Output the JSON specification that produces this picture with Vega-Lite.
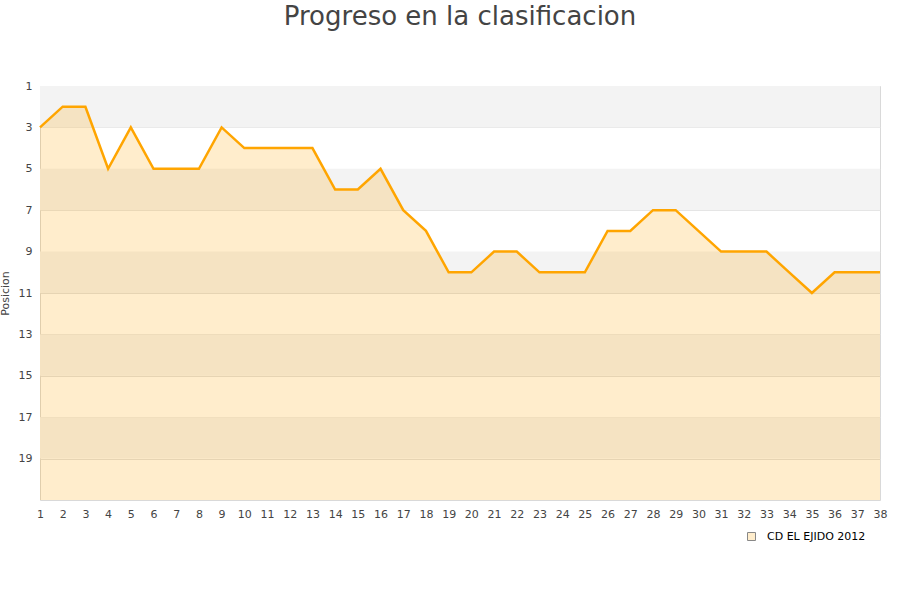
{
  "$schema": "https://vega.github.io/schema/vega-lite/v6.json",
  "width": 840,
  "height": 414,
  "autosize": {"type": "none"},
  "padding": {"left": 40, "top": 86, "right": 20, "bottom": 100},
  "background": "white",
  "title": {
    "text": "Progreso en la clasificacion",
    "fontSize": 26,
    "font": "DejaVu Sans",
    "fontWeight": "normal",
    "color": "#444444",
    "offset": 50
  },
  "config": {
    "view": {"stroke": "#d9d9d9", "strokeWidth": 1},
    "font": "DejaVu Sans",
    "axisX": {
      "title": null,
      "grid": false,
      "domain": false,
      "ticks": false,
      "labelPadding": 8,
      "labelFontSize": 11,
      "labelColor": "#444444",
      "labelFlush": false,
      "labelOverlap": false,
      "labelSeparation": 0
    },
    "axisY": {
      "titleFontSize": 11,
      "titleFontWeight": "normal",
      "titleColor": "#444444",
      "titlePadding": 8,
      "grid": true,
      "gridColor": "#e0e0e0",
      "domain": false,
      "ticks": false,
      "labelPadding": 8,
      "labelFontSize": 11,
      "labelColor": "#444444",
      "labelFlush": false
    }
  },
  "datasets": {
    "posiciones": [
      {"jornada": 1, "posicion": 3, "equipo": "CD EL EJIDO 2012"},
      {"jornada": 2, "posicion": 2, "equipo": "CD EL EJIDO 2012"},
      {"jornada": 3, "posicion": 2, "equipo": "CD EL EJIDO 2012"},
      {"jornada": 4, "posicion": 5, "equipo": "CD EL EJIDO 2012"},
      {"jornada": 5, "posicion": 3, "equipo": "CD EL EJIDO 2012"},
      {"jornada": 6, "posicion": 5, "equipo": "CD EL EJIDO 2012"},
      {"jornada": 7, "posicion": 5, "equipo": "CD EL EJIDO 2012"},
      {"jornada": 8, "posicion": 5, "equipo": "CD EL EJIDO 2012"},
      {"jornada": 9, "posicion": 3, "equipo": "CD EL EJIDO 2012"},
      {"jornada": 10, "posicion": 4, "equipo": "CD EL EJIDO 2012"},
      {"jornada": 11, "posicion": 4, "equipo": "CD EL EJIDO 2012"},
      {"jornada": 12, "posicion": 4, "equipo": "CD EL EJIDO 2012"},
      {"jornada": 13, "posicion": 4, "equipo": "CD EL EJIDO 2012"},
      {"jornada": 14, "posicion": 6, "equipo": "CD EL EJIDO 2012"},
      {"jornada": 15, "posicion": 6, "equipo": "CD EL EJIDO 2012"},
      {"jornada": 16, "posicion": 5, "equipo": "CD EL EJIDO 2012"},
      {"jornada": 17, "posicion": 7, "equipo": "CD EL EJIDO 2012"},
      {"jornada": 18, "posicion": 8, "equipo": "CD EL EJIDO 2012"},
      {"jornada": 19, "posicion": 10, "equipo": "CD EL EJIDO 2012"},
      {"jornada": 20, "posicion": 10, "equipo": "CD EL EJIDO 2012"},
      {"jornada": 21, "posicion": 9, "equipo": "CD EL EJIDO 2012"},
      {"jornada": 22, "posicion": 9, "equipo": "CD EL EJIDO 2012"},
      {"jornada": 23, "posicion": 10, "equipo": "CD EL EJIDO 2012"},
      {"jornada": 24, "posicion": 10, "equipo": "CD EL EJIDO 2012"},
      {"jornada": 25, "posicion": 10, "equipo": "CD EL EJIDO 2012"},
      {"jornada": 26, "posicion": 8, "equipo": "CD EL EJIDO 2012"},
      {"jornada": 27, "posicion": 8, "equipo": "CD EL EJIDO 2012"},
      {"jornada": 28, "posicion": 7, "equipo": "CD EL EJIDO 2012"},
      {"jornada": 29, "posicion": 7, "equipo": "CD EL EJIDO 2012"},
      {"jornada": 30, "posicion": 8, "equipo": "CD EL EJIDO 2012"},
      {"jornada": 31, "posicion": 9, "equipo": "CD EL EJIDO 2012"},
      {"jornada": 32, "posicion": 9, "equipo": "CD EL EJIDO 2012"},
      {"jornada": 33, "posicion": 9, "equipo": "CD EL EJIDO 2012"},
      {"jornada": 34, "posicion": 10, "equipo": "CD EL EJIDO 2012"},
      {"jornada": 35, "posicion": 11, "equipo": "CD EL EJIDO 2012"},
      {"jornada": 36, "posicion": 10, "equipo": "CD EL EJIDO 2012"},
      {"jornada": 37, "posicion": 10, "equipo": "CD EL EJIDO 2012"},
      {"jornada": 38, "posicion": 10, "equipo": "CD EL EJIDO 2012"}
    ],
    "bandas": [
      {"desde": 1, "hasta": 3},
      {"desde": 5, "hasta": 7},
      {"desde": 9, "hasta": 11},
      {"desde": 13, "hasta": 15},
      {"desde": 17, "hasta": 19}
    ]
  },
  "layer": [
    {
      "data": {"name": "bandas"},
      "mark": {"type": "rect", "color": "#f3f3f3"},
      "encoding": {
        "x": {
          "datum": 1,
          "type": "quantitative",
          "scale": {"domain": [1, 38], "nice": false, "zero": false},
          "axis": {
            "values": [1,2,3,4,5,6,7,8,9,10,11,12,13,14,15,16,17,18,19,20,21,22,23,24,25,26,27,28,29,30,31,32,33,34,35,36,37,38],
            "labelOverlap": false
          }
        },
        "x2": {"datum": 38},
        "y": {
          "field": "desde",
          "type": "quantitative",
          "scale": {"domain": [1, 21], "nice": false, "zero": false, "reverse": true},
          "axis": {"title": "Posicion", "values": [1,3,5,7,9,11,13,15,17,19]}
        },
        "y2": {"field": "hasta"}
      }
    },
    {
      "data": {"name": "posiciones"},
      "mark": {"type": "area", "opacity": 1},
      "encoding": {
        "x": {
          "field": "jornada",
          "type": "quantitative",
          "axis": {
            "values": [1,2,3,4,5,6,7,8,9,10,11,12,13,14,15,16,17,18,19,20,21,22,23,24,25,26,27,28,29,30,31,32,33,34,35,36,37,38],
            "labelOverlap": false
          }
        },
        "y": {
          "field": "posicion",
          "type": "quantitative",
          "axis": {"title": "Posicion", "values": [1,3,5,7,9,11,13,15,17,19]}
        },
        "y2": {"datum": 21},
        "color": {
          "field": "equipo",
          "type": "nominal",
          "scale": {"range": ["rgba(255,165,0,0.2)"]},
          "legend": {
            "title": null,
            "orient": "none",
            "legendX": 706,
            "legendY": 445,
            "symbolType": "square",
            "symbolSize": 64,
            "symbolOpacity": 1,
            "symbolStrokeColor": "#888888",
            "symbolStrokeWidth": 1,
            "labelOffset": 10,
            "labelFontSize": 11,
            "labelColor": "#000000",
            "labelFont": "DejaVu Sans"
          }
        }
      }
    },
    {
      "data": {"name": "posiciones"},
      "mark": {"type": "line", "color": "#ffa500", "strokeWidth": 2.5},
      "encoding": {
        "x": {
          "field": "jornada",
          "type": "quantitative",
          "axis": {
            "values": [1,2,3,4,5,6,7,8,9,10,11,12,13,14,15,16,17,18,19,20,21,22,23,24,25,26,27,28,29,30,31,32,33,34,35,36,37,38],
            "labelOverlap": false
          }
        },
        "y": {
          "field": "posicion",
          "type": "quantitative",
          "axis": {"title": "Posicion", "values": [1,3,5,7,9,11,13,15,17,19]}
        }
      }
    }
  ]
}
